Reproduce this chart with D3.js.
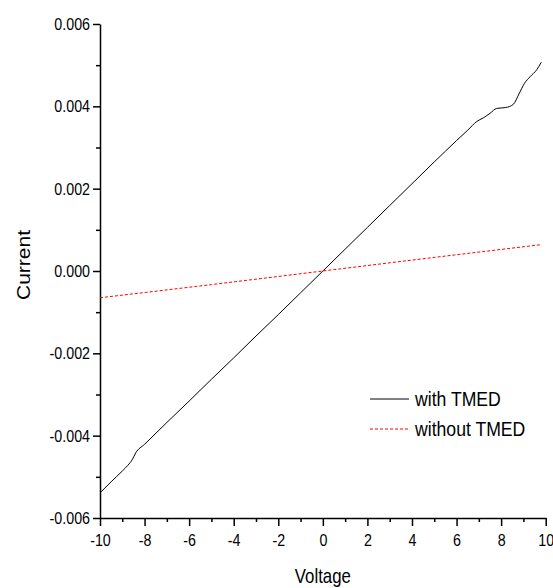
<!DOCTYPE html>
<html lang="en">
<head>
<meta charset="UTF-8">
<title>Current vs Voltage</title>
<script src="https://cdn.jsdelivr.net/npm/d3@7"></script>
<style>
  body { margin: 0; background: #fff; }
  text { font-family: "Liberation Sans", Arial, sans-serif; fill: #000; }
  .axis path, .axis line { stroke: #000; stroke-width: 1.5px; fill: none; }
</style>
</head>
<body>
<script>
// data
var withV = [-10, -9.5, -9, -8.75, -8.55, -8.4, -8, -7, -6, -5, -4, -3, -2, -1, 0, 1, 2, 3, 4, 5, 5.5, 6, 6.5, 6.9, 7.2, 7.5, 7.8, 8.2, 8.55, 8.8, 9.05, 9.3, 9.6, 9.8];
var withI = [-0.00539, -0.00512, -0.00486, -0.00472, -0.00458, -0.00442, -0.00421, -0.00368, -0.00316, -0.00263, -0.00211, -0.00158, -0.00106, -0.00053, 0.00000, 0.00053, 0.00106, 0.00159, 0.00212, 0.00265, 0.00291, 0.00317, 0.00342, 0.00363, 0.00372, 0.00383, 0.00395, 0.00397, 0.00405, 0.00430, 0.00456, 0.00472, 0.00489, 0.00507];
var withoutV = [-10, -5, 0, 5, 9.8];
var withoutI = [-0.00065, -0.00033, 0.00000, 0.00033, 0.00064];
var xTicks = [-10, -8, -6, -4, -2, 0, 2, 4, 6, 8, 10];
var yTicks = [-0.006, -0.004, -0.002, 0, 0.002, 0.004, 0.006];
var legendNames = ["with TMED", "without TMED"];

var width = 553, height = 588;
var m = {left: 100, right: 545.7, top: 24, bottom: 518};
var narrow = 0.84; // the original picture is squeezed sideways

var svg = d3.select("body").append("svg")
  .attr("width", width)
  .attr("height", height);

var x = d3.scaleLinear().domain([-10, 10]).range([m.left, m.right]);
var y = d3.scaleLinear().domain([-0.006, 0.006]).range([m.bottom, m.top]);

function hyphen(f) {
  return function(d) { return f(d).replace("\u2212", "-"); };
}

function squeeze(sel) {
  sel.each(function() {
    var t = d3.select(this);
    var tx = +t.attr("x") || 0;
    t.attr("x", tx / narrow).attr("transform", "scale(" + narrow + ",1)");
  });
}

// minor ticks
var xMinor = d3.range(-9, 10, 2);
var yMinor = [-0.005, -0.003, -0.001, 0.001, 0.003, 0.005];

svg.append("g").attr("class", "axis")
  .attr("transform", "translate(0," + m.bottom + ")")
  .call(d3.axisBottom(x).tickValues(xMinor).tickSize(4).tickFormat(""))
  .select(".domain").remove();

svg.append("g").attr("class", "axis")
  .attr("transform", "translate(" + m.left + ",0)")
  .call(d3.axisLeft(y).tickValues(yMinor).tickSize(4).tickFormat(""))
  .select(".domain").remove();

var xAxis = svg.append("g").attr("class", "axis")
  .attr("transform", "translate(0," + m.bottom + ")")
  .call(d3.axisBottom(x).tickValues(xTicks).tickSize(8).tickSizeOuter(0).tickPadding(8)
    .tickFormat(hyphen(d3.format("d"))));
xAxis.attr("font-family", null);
xAxis.selectAll("text").attr("font-size", 17).attr("fill", "#000").call(squeeze);

var yAxis = svg.append("g").attr("class", "axis")
  .attr("transform", "translate(" + m.left + ",0)")
  .call(d3.axisLeft(y).tickValues(yTicks).tickSize(7).tickSizeOuter(0).tickPadding(3)
    .tickFormat(hyphen(d3.format(".3f"))));
yAxis.attr("font-family", null);
yAxis.selectAll("text").attr("font-size", 17).attr("fill", "#000").call(squeeze);

// axis titles
svg.append("text")
  .attr("transform", "translate(" + ((m.left + m.right) / 2) + ",583) scale(" + narrow + ",1)")
  .attr("text-anchor", "middle")
  .attr("font-size", 20)
  .text("Voltage");

svg.append("text")
  .attr("transform", "translate(30," + (y(0) - 6) + ") rotate(-90) scale(1," + narrow + ")")
  .attr("text-anchor", "middle")
  .attr("font-size", 21)
  .text("Current");

var line = d3.line()
  .x(function(d) { return x(d[0]); })
  .y(function(d) { return y(d[1]); })
  .curve(d3.curveMonotoneX);

svg.append("path")
  .datum(d3.zip(withV, withI))
  .attr("d", line)
  .attr("fill", "none")
  .attr("stroke", "#000")
  .attr("stroke-width", 1);

svg.append("path")
  .datum(d3.zip(withoutV, withoutI))
  .attr("d", line)
  .attr("fill", "none")
  .attr("stroke", "#ff0000")
  .attr("stroke-width", 1)
  .attr("stroke-dasharray", "3,2");

// legend
var legend = svg.append("g").attr("transform", "translate(370,399)");
legendNames.forEach(function(name, i) {
  var g = legend.append("g").attr("transform", "translate(0," + i * 30 + ")");
  g.append("line")
    .attr("x1", 0).attr("x2", 39)
    .attr("stroke", i === 0 ? "#000" : "#ff0000")
    .attr("stroke-width", 1)
    .attr("stroke-dasharray", i === 0 ? null : "3,2");
  g.append("text")
    .attr("transform", "translate(45,7) scale(" + narrow + ",1)")
    .attr("font-size", 21)
    .text(name);
});
</script>
</body>
</html>
